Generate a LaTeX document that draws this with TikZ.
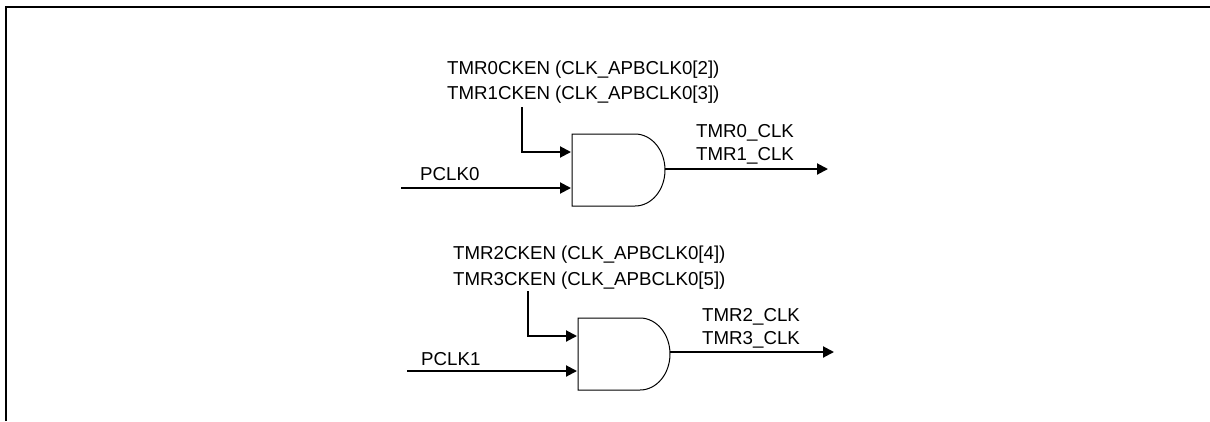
\documentclass[tikz,border=0pt]{standalone}
\usepackage{fontspec}
\setmainfont{Liberation Sans}
\usetikzlibrary{arrows.meta}
\tikzset{
	sig/.style={line width=2pt, -{Triangle[length=11pt,width=11pt]}},
	lbl/.style={inner sep=0pt, align=left, font=\fontsize{18.7pt}{22.7pt}\selectfont},
	enlbl/.style={lbl, font=\fontsize{18.7pt}{25.5pt}\selectfont},
	gate/.style={line width=1pt}
}
\begin{document}
\begin{tikzpicture}[x=1pt, y=-1pt, line join=miter]
	\useasboundingbox (0,0) rectangle (1210,421);
	\draw[line width=2pt] (6,421)--(6,7)--(1210,7);
	% upper gate
	\path
	(572,134) coordinate (A)
	(572,206) coordinate (B)
	(635,134) coordinate (C)
	(635,206) coordinate (D)
	(665,170) coordinate (E);
	\draw[gate] (C)--(A)--(B)--(D) (C) arc[start angle=90, end angle=-90, x radius=30, y radius=-36];
	\coordinate (P0) at (401,188);
	\coordinate (Q0) at (571,188);
	\coordinate (R0) at (522,107);
	\coordinate (S0) at (571,152);
	\coordinate (T0) at (828,169);
	\draw[sig] (P0)--(Q0);
	\draw[sig] (R0)--(R0|-S0)--(S0);
	\draw[sig] (E|-T0)--(T0);
	\node[lbl, anchor=west] (pclk0) at (420,174) {PCLK0};
	\node[enlbl, anchor=west] (en0) at (447,82) {TMR0CKEN (CLK\_APBCLK0[2])\\TMR1CKEN (CLK\_APBCLK0[3])};
	\node[lbl, anchor=west] (out0) at (696,144.5) {TMR0\_CLK\\TMR1\_CLK};
	% lower gate
	\path
	(578,318) coordinate (F)
	(578,390) coordinate (G)
	(640,318) coordinate (H)
	(640,390) coordinate (I)
	(670,354) coordinate (J);
	\draw[gate] (H)--(F)--(G)--(I) (H) arc[start angle=90, end angle=-90, x radius=30, y radius=-36];
	\coordinate (P1) at (407,371);
	\coordinate (Q1) at (577,371);
	\coordinate (R1) at (528,291);
	\coordinate (S1) at (577,336);
	\coordinate (T1) at (834,352);
	\draw[sig] (P1)--(Q1);
	\draw[sig] (R1)--(R1|-S1)--(S1);
	\draw[sig] (J|-T1)--(T1);
	\node[lbl, anchor=west] (pclk1) at (421,359) {PCLK1};
	\node[enlbl, anchor=west] (en1) at (453,267.5) {TMR2CKEN (CLK\_APBCLK0[4])\\TMR3CKEN (CLK\_APBCLK0[5])};
	\node[lbl, anchor=west] (out1) at (702,328) {TMR2\_CLK\\TMR3\_CLK};
\end{tikzpicture}
\end{document}
